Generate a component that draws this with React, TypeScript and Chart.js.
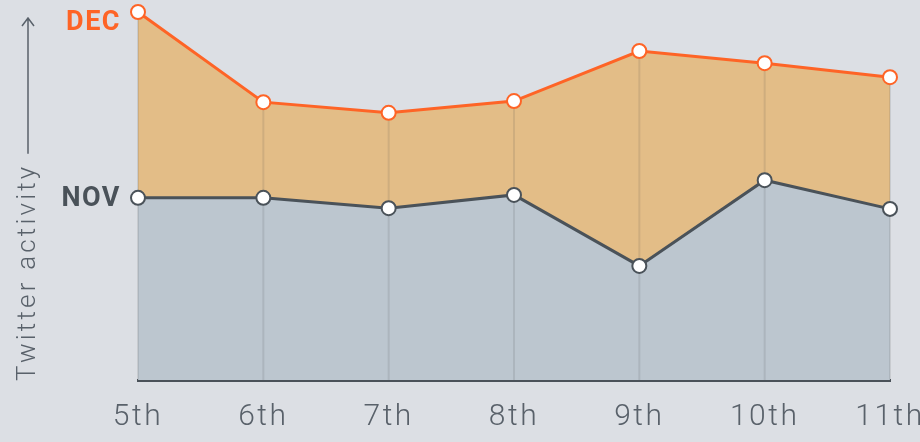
import React, { useEffect, useRef } from "react";
import { Chart, registerables } from "chart.js";

Chart.register(...registerables);

const days = ["5th", "6th", "7th", "8th", "9th", "10th", "11th"];
const decValues = [100, 75.5, 72.6, 75.8, 89.4, 86.1, 82.3];
const novValues = [49.5, 49.5, 46.7, 50.3, 31.0, 54.3, 46.5];
const seriesLabels = ["NOV", "DEC"];
const axisTitle = "Twitter activity";

const BG = "#dcdfe4";
const ORANGE = "#fe6426";
const DARK = "#4a5259";
const TEXT = "#59616a";
const FONT = "Roboto, 'DejaVu Sans', sans-serif";

export default function App() {
  const ref = useRef<HTMLCanvasElement | null>(null);

  useEffect(() => {
    document.body.style.margin = "0";
    const canvas = ref.current;
    if (!canvas) return;

    const spacing = {
      id: "spacing",
      beforeDraw(chart: any) {
        chart.ctx.letterSpacing = "2.5px";
      },
    };

    const dropLines = {
      id: "dropLines",
      beforeDatasetsDraw(chart: any) {
        const ctx = chart.ctx;
        const x = chart.scales.x;
        const y = chart.scales.y;
        ctx.save();
        ctx.strokeStyle = "rgba(70,70,70,0.13)";
        ctx.lineWidth = 2;
        decValues.forEach((v, i) => {
          const px = x.getPixelForValue(i);
          ctx.beginPath();
          ctx.moveTo(px, y.getPixelForValue(v));
          ctx.lineTo(px, y.getPixelForValue(0));
          ctx.stroke();
        });
        ctx.restore();
      },
    };

    const annotations = {
      id: "annotations",
      afterDraw(chart: any) {
        const ctx = chart.ctx;
        const x = chart.scales.x;
        const y = chart.scales.y;
        ctx.save();
        ctx.letterSpacing = "1.5px";
        ctx.font = `bold 27px ${FONT}`;
        ctx.textAlign = "right";
        ctx.textBaseline = "middle";
        const x0 = x.getPixelForValue(0) - 17;
        ctx.fillStyle = ORANGE;
        ctx.fillText(seriesLabels[1], x0, y.getPixelForValue(decValues[0]) + 11);
        ctx.fillStyle = DARK;
        ctx.fillText(seriesLabels[0], x0, y.getPixelForValue(novValues[0]) + 1);

        ctx.letterSpacing = "3.2px";
        ctx.translate(28, 381);
        ctx.rotate(-Math.PI / 2);
        ctx.font = `300 26px ${FONT}`;
        ctx.fillStyle = TEXT;
        ctx.textAlign = "left";
        ctx.textBaseline = "middle";
        ctx.fillText(axisTitle, 0, 0);
        const w = ctx.measureText(axisTitle).width;
        const start = Math.max(w + 10, 225);
        const end = 363;
        ctx.strokeStyle = TEXT;
        ctx.lineWidth = 1.5;
        ctx.beginPath();
        ctx.moveTo(start, 0);
        ctx.lineTo(end, 0);
        ctx.moveTo(end - 8, -6);
        ctx.lineTo(end, 0);
        ctx.lineTo(end - 8, 6);
        ctx.stroke();
        ctx.restore();
      },
    };

    const chart = new Chart(canvas, {
      type: "line",
      data: {
        labels: days,
        datasets: [
          {
            label: seriesLabels[0],
            data: novValues,
            borderColor: DARK,
            borderWidth: 3,
            backgroundColor: "#bcc6cf",
            fill: "origin",
            pointRadius: 7,
            pointBorderWidth: 2,
            pointBackgroundColor: "#ffffff",
            pointBorderColor: DARK,
            tension: 0,
            clip: false as any,
          },
          {
            label: seriesLabels[1],
            data: decValues,
            borderColor: ORANGE,
            borderWidth: 3,
            backgroundColor: "#e3bd87",
            fill: "-1",
            pointRadius: 7,
            pointBorderWidth: 2,
            pointBackgroundColor: "#ffffff",
            pointBorderColor: ORANGE,
            tension: 0,
            clip: false as any,
          },
        ],
      },
      options: {
        animation: false,
        responsive: false,
        maintainAspectRatio: false,
        layout: { padding: { left: 138, right: 30, top: 12, bottom: 0 } },
        plugins: {
          legend: { display: false },
          tooltip: { enabled: false },
          filler: { drawTime: "beforeDatasetsDraw" } as any,
        },
        scales: {
          x: {
            offset: false,
            grid: { display: false, drawTicks: false },
            border: { display: true, color: DARK, width: 3 },
            ticks: {
              color: TEXT,
              font: { family: FONT, size: 30, weight: "300" as any },
              padding: 19,
              maxRotation: 0,
              autoSkip: false,
            },
            afterFit(scale: any) {
              scale.height = 62;
              scale.paddingLeft = 0;
              scale.paddingRight = 0;
            },
          },
          y: {
            display: false,
            min: 0,
            max: 100,
          },
        },
      },
      plugins: [spacing, dropLines, annotations],
    });
    return () => chart.destroy();
  }, []);

  return (
    <div style={{ width: 920, height: 442, background: BG }}>
      <canvas ref={ref} width={920} height={442} style={{ display: "block" }} />
    </div>
  );
}
